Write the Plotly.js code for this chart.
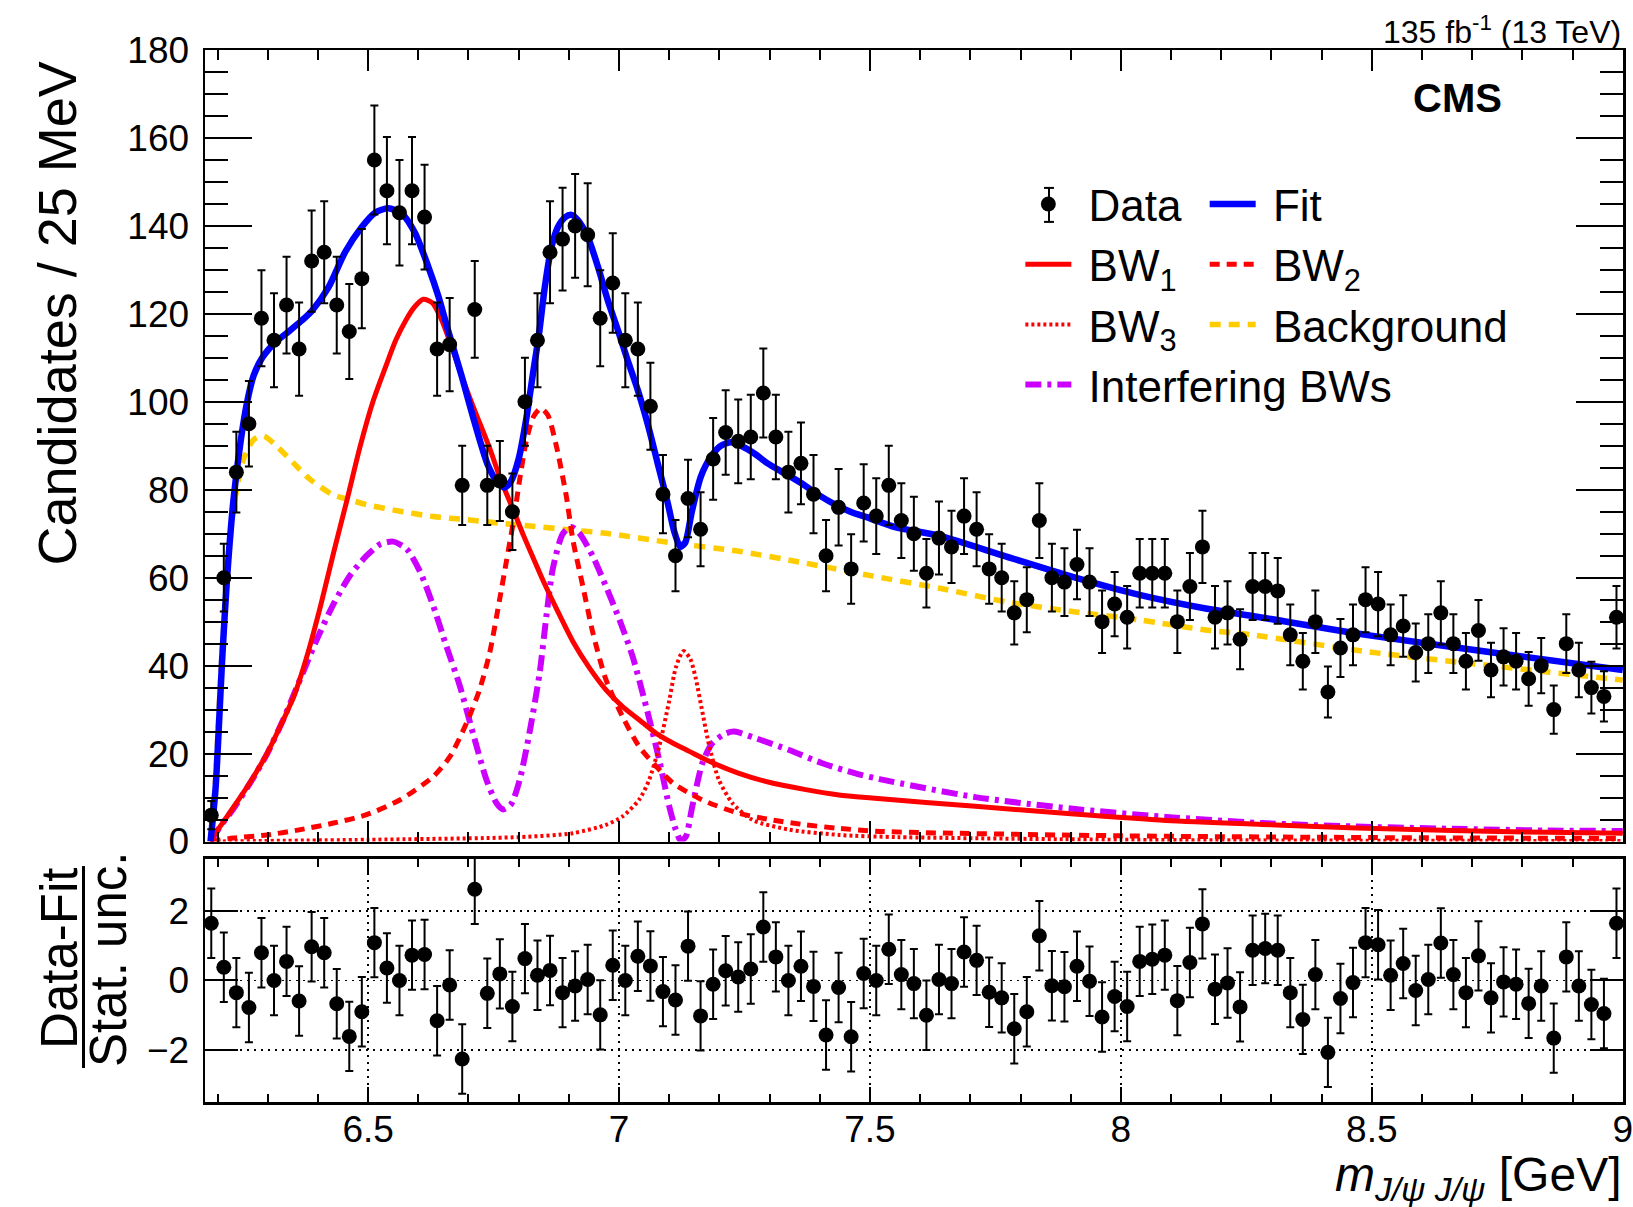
<!DOCTYPE html>
<html><head><meta charset="utf-8">
<script src="https://cdn.plot.ly/plotly-3.0.1.min.js"></script>
<style>html,body{margin:0;padding:0;background:#fff;}#chart{width:1633px;height:1207px;}</style>
</head><body><div id="chart"></div>
<script>
// ---- histogram binning (25 MeV bins) ----
const binLow = 6.175;
const binWidth = 0.025;

// ---- data: candidates per bin ----
const counts = [6,60,84,95,119,114,122,112,132,134,
  122,116,128,155,148,143,148,142,112,113,
  81,121,81,82,75,100,114,134,137,140,
  138,119,127,114,112,99,79,65,78,71,
  87,93,91,92,102,92,84,86,79,65,
  76,62,77,74,81,73,70,61,69,67,
  74,71,62,60,52,55,73,60,59,63,
  59,50,54,51,61,61,61,50,58,67,
  51,52,46,58,58,57,47,41,50,34,
  44,47,55,54,47,49,43,45,52,45,
  41,48,39,42,41,37,40,30,45,39,
  35,33,51];
const countErr = [3.2,7.7,9.2,9.7,10.9,10.7,11.0,10.6,11.5,11.6,
  11.0,10.8,11.3,12.4,12.2,12.0,12.2,11.9,10.6,10.6,
  9.0,11.0,9.0,9.1,8.7,10.0,10.7,11.6,11.7,11.8,
  11.7,10.9,11.3,10.7,10.6,9.9,8.9,8.1,8.8,8.4,
  9.3,9.6,9.5,9.6,10.1,9.6,9.2,9.3,8.9,8.1,
  8.7,7.9,8.8,8.6,9.0,8.5,8.4,7.8,8.3,8.2,
  8.6,8.4,7.9,7.7,7.2,7.4,8.5,7.7,7.7,7.9,
  7.7,7.1,7.3,7.1,7.8,7.8,7.8,7.1,7.6,8.2,
  7.1,7.2,6.8,7.6,7.6,7.5,6.9,6.4,7.1,5.8,
  6.6,6.9,7.4,7.3,6.9,7.0,6.6,6.7,7.2,6.7,
  6.4,6.9,6.2,6.5,6.4,6.1,6.3,5.5,6.7,6.2,
  5.9,5.7,7.1];
// ---- (Data-Fit)/stat. unc. ----
const pulls = [1.65,0.38,-0.35,-0.78,0.80,0.00,0.55,-0.59,0.97,0.80,
  -0.67,-1.61,-0.90,1.09,0.36,0.00,0.73,0.75,-1.16,-0.13,
  -2.26,2.63,-0.37,0.19,-0.75,0.63,0.15,0.29,-0.35,-0.16,
  0.03,-0.99,0.44,0.00,0.70,0.42,-0.32,-0.56,0.99,-1.02,
  -0.11,0.28,0.10,0.33,1.54,0.68,0.00,0.41,-0.17,-1.57,
  -0.20,-1.62,0.20,0.00,0.90,0.17,-0.09,-1.00,0.03,-0.09,
  0.82,0.58,-0.34,-0.50,-1.39,-0.90,1.29,-0.15,-0.18,0.41,
  -0.02,-1.05,-0.46,-0.75,0.55,0.61,0.73,-0.58,0.52,1.63,
  -0.25,-0.07,-0.76,0.87,0.92,0.87,-0.35,-1.12,0.17,-2.07,
  -0.52,-0.06,1.09,1.03,0.15,0.49,-0.29,0.03,1.08,0.17,
  -0.35,0.71,-0.50,-0.04,-0.11,-0.66,-0.16,-1.66,0.68,-0.16,
  -0.69,-0.95,1.65];

// ---- fit curves ----
const fitX = [6.186,6.196,6.203,6.209,6.219,6.232,6.246,6.259,6.272,6.289,6.315,6.342,6.368,6.388,6.421,6.454,6.487,6.514,6.540,6.567,6.593,6.620,6.640,6.660,6.686,6.713,6.739,6.759,6.772,6.785,6.800,6.815,6.828,6.840,6.852,6.865,6.878,6.892,6.905,6.918,6.938,6.958,6.978,6.998,7.017,7.037,7.057,7.077,7.097,7.110,7.122,7.132,7.145,7.163,7.183,7.203,7.223,7.243,7.269,7.296,7.329,7.362,7.395,7.428,7.461,7.500,7.550,7.639,7.772,7.904,8.037,8.169,8.262,8.488,8.752,9.0];
const fitY = [0,12,27,41,60,78,91,100,106,110,113.5,116,118.5,120.7,126,134,139.7,143,144,142.8,138.5,130.7,124,116,106,95,85.5,81.5,80.5,82,87,96,106,115,126,135,139.7,141.9,142.5,141.3,137.4,130.7,122.9,116.2,109.5,102.8,95,86,77,70.5,67,68,75,83,87.5,90,90.8,90,88.3,86,83.8,81.6,79,76.8,75,73.5,71.5,69.5,64.8,60.2,56.1,53,51.3,47,42.8,39];

const bkgX = [6.186,6.196,6.206,6.219,6.232,6.252,6.272,6.292,6.319,6.352,6.385,6.431,6.464,6.497,6.564,6.630,6.696,6.762,6.829,6.900,6.974,7.107,7.239,7.372,7.504,7.639,7.772,7.904,8.037,8.169,8.262,8.488,8.752,9.0];
const bkgY = [0,14,37,59.5,76,87,91.4,92.2,89.8,86,82.3,78.8,77.7,76.6,75.1,73.9,73.2,72.4,71.7,70.9,70.1,67.9,66,63.3,60.4,57.6,54.5,52.3,50.4,48.1,47,43.2,39.8,36.7];

const bw1X = [6.186,6.196,6.219,6.246,6.272,6.299,6.325,6.352,6.378,6.405,6.431,6.458,6.484,6.511,6.535,6.555,6.575,6.592,6.610,6.628,6.645,6.665,6.686,6.709,6.742,6.765,6.789,6.810,6.829,6.850,6.875,6.908,6.941,6.974,7.007,7.040,7.074,7.107,7.140,7.173,7.239,7.305,7.372,7.438,7.504,7.71,7.90,8.09,8.28,8.47,8.66,8.85,9.0];
const bw1Y = [0,1.9,5.7,10.2,14.8,20.1,26.2,33,42.1,53.5,65.6,77.7,89.8,100.5,108,114,118.5,121.5,123.3,122.5,119,113,106,99,89.5,82,75.5,69.5,64.5,59,53,45.5,39.5,34.5,30.7,27.7,24.6,22.4,20.5,18.6,15.5,13.3,11.8,10.6,9.9,8.0,6.3,4.8,3.9,3.1,2.5,2.1,1.9];

const bw2X = [6.186,6.232,6.299,6.365,6.431,6.497,6.564,6.630,6.663,6.696,6.722,6.742,6.762,6.776,6.789,6.802,6.815,6.829,6.844,6.858,6.875,6.895,6.908,6.928,6.948,6.974,7.007,7.040,7.074,7.107,7.140,7.173,7.239,7.305,7.372,7.438,7.52,8.0,8.5,9.0];
const bw2Y = [0,0.8,1.5,2.7,4.2,6.1,9.5,14.8,19.3,26.9,34.5,42.8,55,64,72.4,82.3,91,96.5,98.5,97,90,78.5,68.6,58,47.4,36.8,28.4,21.6,17.1,13.3,11,9.1,6.4,4.9,3.8,3,2.3,1.3,0.9,0.7];

const bw3X = [6.186,6.5,6.8,6.908,6.974,7.007,7.040,7.060,7.080,7.100,7.113,7.128,7.142,7.153,7.166,7.180,7.199,7.226,7.266,7.339,7.438,7.557,8.0,8.5,9.0];
const bw3Y = [0,0.4,1.0,1.9,3.8,5.7,9.5,14,21.6,32,39.5,43.3,41.5,37,29.5,21.6,14,8.7,4.9,2.7,1.5,1.0,0.4,0.2,0.1];

const intX = [6.186,6.206,6.232,6.266,6.299,6.332,6.365,6.398,6.431,6.464,6.497,6.524,6.550,6.577,6.603,6.630,6.656,6.683,6.709,6.736,6.756,6.769,6.785,6.802,6.822,6.842,6.855,6.868,6.888,6.905,6.921,6.948,6.974,7.001,7.027,7.054,7.080,7.100,7.113,7.123,7.133,7.146,7.166,7.186,7.213,7.230,7.272,7.339,7.405,7.471,7.519,7.71,7.90,8.09,8.28,8.47,8.66,8.85,9.0];
const intY = [0,3.5,7.5,13.5,20,28,37,46,54,60.5,65,67.6,68.2,66.5,61.5,53.5,44.4,35.3,24.6,14,8.7,7.3,8.5,14,25,38.5,51,62,70,71.5,70.1,64.8,58,50.4,42.1,30.7,18.6,8,2.7,0.2,1.1,8,17.8,22.4,24.6,25,23.5,20.8,17.8,15.5,14.2,10.1,7.5,5.6,4.2,3.4,2.9,2.5,2.4];

// ---- labels ----
const xTitle = '<i>m</i><sub><i>J/ψ J/ψ</i></sub> [GeV]';
const yTitle = 'Candidates / 25 MeV';
const lumiLabel = '135 fb<sup>-1</sup> (13 TeV)';
const expLabel = '<b>CMS</b>';
const legendNames = ['Data', 'Fit', 'BW<sub>1</sub>', 'BW<sub>2</sub>', 'BW<sub>3</sub>', 'Background', 'Interfering BWs'];

const binCenters = counts.map((_, i) => binLow + binWidth * (i + 0.5));

const FONT = '"Liberation Sans", Arial, Helvetica, sans-serif';
const BLUE = '#0000ff', RED = '#ff0000', YEL = '#ffcc00', MAG = '#cc00ff';
const NB = '\u00a0';

function curve(x, y, name, color, width, dash, legend, rank) {
  return {type:'scatter', mode:'lines', x:x, y:y, name:NB + name, xaxis:'x', yaxis:'y',
    line:{color:color, width:width, dash:dash, shape:'spline', smoothing:0.7},
    legend:legend, legendrank:rank, hoverinfo:'skip'};
}

const traces = [
  curve(bkgX, bkgY, legendNames[5], YEL, 5.5, '11px,8px', 'legend2', 3),
  curve(intX, intY, legendNames[6], MAG, 6, '16px,6px,4px,6px', 'legend', 4),
  curve(bw3X, bw3Y, legendNames[4], RED, 4, '3px,3px', 'legend', 3),
  curve(bw2X, bw2Y, legendNames[3], RED, 5, '10px,7px', 'legend2', 2),
  curve(bw1X, bw1Y, legendNames[2], RED, 5, 'solid', 'legend', 2),
  curve(fitX, fitY, legendNames[1], BLUE, 6.5, 'solid', 'legend2', 1),
  {type:'scatter', mode:'markers', x:binCenters, y:counts, name:NB + legendNames[0], xaxis:'x', yaxis:'y',
    marker:{color:'#000', size:15, symbol:'circle'},
    error_y:{type:'data', array:countErr, visible:true, color:'#000', thickness:2, width:4},
    legend:'legend', legendrank:1, cliponaxis:false, hoverinfo:'skip'},
  {type:'scatter', mode:'markers', x:binCenters, y:pulls, xaxis:'x2', yaxis:'y2', showlegend:false,
    marker:{color:'#000', size:15, symbol:'circle'},
    error_y:{type:'constant', value:1, visible:true, color:'#000', thickness:2, width:4},
    cliponaxis:false, hoverinfo:'skip'}
];

const topY = [0.2476, 1], botY = [0, 0.231];
const xRange = [6.175, 9.0005];
const axisCommon = {showline:true, linewidth:2.5, linecolor:'#000', mirror:'allticks', zeroline:false,
  ticks:'inside', tickcolor:'#000', tickwidth:2};

// error-bar glyph of the "Data" legend entry (legend decoration, paper coords)
const lgX = 0.5952, lgY0 = 0.8366, lgY1 = 0.8689, cap = 0.0035;

const layout = {
  width:1633, height:1207,
  margin:{l:205, r:10, t:50, b:105},
  paper_bgcolor:'#fff', plot_bgcolor:'#fff',
  font:{family:FONT, color:'#000', size:37},
  xaxis:Object.assign({}, axisCommon, {domain:[0,1], anchor:'y', range:xRange,
    showticklabels:false, tick0:6.5, dtick:0.5, ticklen:21, showgrid:false,
    minor:{ticks:'inside', ticklen:10, tickwidth:2, tickcolor:'#000', dtick:0.1, showgrid:false}}),
  yaxis:Object.assign({}, axisCommon, {domain:topY, anchor:'x', range:[0,180], tick0:0, dtick:20,
    ticklen:47, showgrid:false, tickfont:{size:37}, ticklabelstandoff:6,
    minor:{ticks:'inside', ticklen:23, tickwidth:2, tickcolor:'#000', dtick:5, showgrid:false}}),
  xaxis2:Object.assign({}, axisCommon, {domain:[0,1], anchor:'y2', range:xRange,
    tick0:6.5, dtick:0.5, ticklen:15, tickfont:{size:37}, ticklabelstandoff:-7, ticklabeloverflow:'allow',
    showgrid:true, gridcolor:'#000', gridwidth:1.5, griddash:'2px,5px',
    minor:{ticks:'inside', ticklen:8, tickwidth:2, tickcolor:'#000', dtick:0.1, showgrid:false}}),
  yaxis2:Object.assign({}, axisCommon, {domain:botY, anchor:'x2', range:[-3.5,3.5], tick0:0, dtick:2,
    ticklen:33, tickfont:{size:37}, ticklabelstandoff:6,
    showgrid:true, gridcolor:'#000', gridwidth:1.5, griddash:'2px,5px'}),
  legend:{x:0.575, xanchor:'left', y:0.887, yanchor:'top', bgcolor:'rgba(0,0,0,0)',
    font:{size:44, family:FONT}, itemwidth:46, traceorder:'normal', tracegroupgap:0},
  legend2:{x:0.705, xanchor:'left', y:0.887, yanchor:'top', bgcolor:'rgba(0,0,0,0)',
    font:{size:44, family:FONT}, itemwidth:46, traceorder:'normal', tracegroupgap:0},
  annotations:[
    {text:lumiLabel, xref:'paper', yref:'paper', x:1.0, y:0.998, xanchor:'right', yanchor:'bottom',
      showarrow:false, font:{size:32, family:FONT}},
    {text:expLabel, xref:'paper', yref:'paper', x:0.883, y:0.954, xanchor:'center', yanchor:'middle',
      showarrow:false, font:{size:40, family:FONT}},
    {text:yTitle, xref:'paper', yref:'paper', x:-0.1044, y:0.7495, xanchor:'center', yanchor:'middle',
      textangle:-90, showarrow:false, font:{size:54, family:FONT}},
    {text:'Data-Fit', xref:'paper', yref:'paper', x:-0.1023, y:0.1369, xanchor:'center', yanchor:'middle',
      textangle:-90, showarrow:false, font:{size:51, family:FONT}},
    {text:'Stat. unc.', xref:'paper', yref:'paper', x:-0.0677, y:0.135, xanchor:'center', yanchor:'middle',
      textangle:-90, showarrow:false, font:{size:51, family:FONT}},
    {text:xTitle, xref:'paper', yref:'paper', x:1.0, y:-0.0725, xanchor:'right', yanchor:'middle',
      showarrow:false, font:{size:48, family:FONT}}
  ],
  shapes:[
    {type:'line', xref:'paper', yref:'paper', x0:-0.0857, x1:-0.0857, y0:0.0323, y1:0.2243,
      line:{color:'#000', width:3}},
    {type:'line', xref:'paper', yref:'paper', x0:lgX, x1:lgX, y0:lgY0, y1:lgY1, line:{color:'#000', width:2}},
    {type:'line', xref:'paper', yref:'paper', x0:lgX-cap, x1:lgX+cap, y0:lgY0, y1:lgY0, line:{color:'#000', width:2}},
    {type:'line', xref:'paper', yref:'paper', x0:lgX-cap, x1:lgX+cap, y0:lgY1, y1:lgY1, line:{color:'#000', width:2}}
  ]
};

Plotly.newPlot('chart', traces, layout, {staticPlot:true, displayModeBar:false});
</script></body></html>
